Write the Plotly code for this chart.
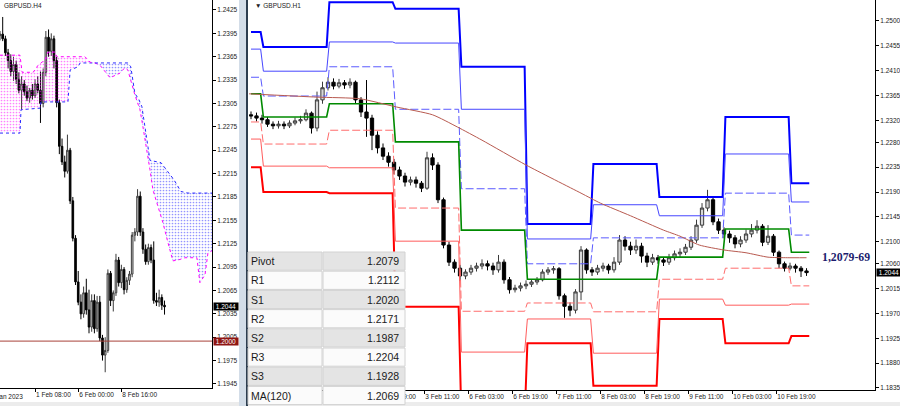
import plotly.graph_objects as go

W, H = 900, 406

# ---------------- Left panel: GBPUSD H4 (bar index 0 = 1 Feb 08:00) ----------------
h4_bar = list(range(-13, 49))
h4_first_open = 1.2392
h4_close = [1.2394, 1.2388, 1.2370, 1.2360, 1.2346, 1.2355, 1.2336, 1.2322, 1.2330, 1.2320,
            1.2312, 1.2322, 1.2315, 1.2330, 1.2322, 1.2305, 1.2345, 1.2390, 1.2372, 1.2388,
            1.2360, 1.2306, 1.2250, 1.2230, 1.2218, 1.2245, 1.2180, 1.2132, 1.2076, 1.2050,
            1.2035, 1.2062, 1.2040, 1.2018, 1.2052, 1.2016, 1.2050, 1.2004, 1.1982, 1.1988,
            1.2087, 1.2052, 1.2062, 1.2104, 1.2075, 1.2092, 1.2066, 1.2078, 1.2086, 1.2136,
            1.2140, 1.2186, 1.2140, 1.2118, 1.2102, 1.2120, 1.2104, 1.2052, 1.2050, 1.2056,
            1.2046, 1.2044]
h4_high = [1.2398, 1.2416, 1.2392, 1.2375, 1.2368, 1.2365, 1.2360, 1.2345, 1.2340, 1.2335,
           1.2328, 1.2325, 1.2330, 1.2336, 1.2340, 1.2346, 1.2350, 1.2398, 1.2400, 1.2395,
           1.2392, 1.2365, 1.2310, 1.2260, 1.2238, 1.2265, 1.2248, 1.2185, 1.2136, 1.2090,
           1.2060, 1.2070, 1.2080, 1.2066, 1.2060, 1.2060, 1.2058, 1.2058, 1.2008, 1.2005,
           1.2092, 1.2090, 1.2065, 1.2112, 1.2108, 1.2098, 1.2095, 1.2082, 1.2090, 1.2140,
           1.2145, 1.2195, 1.2192, 1.2145, 1.2124, 1.2125, 1.2124, 1.2128, 1.2062, 1.2066,
           1.2060, 1.2052]
h4_low = [1.2386, 1.2385, 1.2366, 1.2350, 1.2340, 1.2334, 1.2330, 1.2318, 1.2297, 1.2315,
          1.2308, 1.2306, 1.2310, 1.2312, 1.2318, 1.2280, 1.2300, 1.2340, 1.2365, 1.2366,
          1.2350, 1.2300, 1.2240, 1.2226, 1.2210, 1.2215, 1.2176, 1.2128, 1.2072, 1.2046,
          1.2028, 1.2030, 1.2034, 1.2010, 1.2012, 1.2010, 1.2012, 1.2000, 1.1975, 1.1960,
          1.1985, 1.2045, 1.2038, 1.2058, 1.2070, 1.2068, 1.2060, 1.2062, 1.2072, 1.2082,
          1.2128, 1.2135, 1.2135, 1.2112, 1.2098, 1.2098, 1.2100, 1.2048, 1.2045, 1.2044,
          1.2040, 1.2034]
h4_open = [h4_first_open] + h4_close[:-1]

# Ichimoku cloud: part 1 (span A above span B, magenta), part 2 (span B above span A, blue)
cloud1_top_x = [-13, -5.6, -4.8, -0.7, 1.1, 3.7, 4.8, 7.4, 8.1, 18.5, 20.4, 22.2]
cloud1_top_y = [1.2367, 1.2367, 1.2345, 1.2345, 1.2354, 1.2361, 1.2371, 1.2371, 1.2365, 1.2365, 1.2358, 1.2357]
cloud1_bot_x = [-13, -5.6, -5.2, 1.9, 2.2, 12.2, 13, 15.9, 16.7, 22.2]
cloud1_bot_y = [1.2267, 1.2267, 1.2297, 1.2299, 1.2307, 1.2307, 1.2348, 1.2352, 1.2357, 1.2357]
cloud2_top_x = [22.2, 34.4, 35.5, 37.0, 38.5, 39.6, 41.1, 42.6, 46.7, 49.3, 51.5, 54.1, 56.7, 65.6]
cloud2_top_y = [1.2357, 1.2357, 1.2352, 1.2318, 1.2310, 1.2301, 1.2267, 1.2232, 1.2229, 1.2217,
                1.2207, 1.2192, 1.2190, 1.2190]
cloud2_bot_x = [22.2, 24.1, 27.8, 31.5, 33.3, 34.4, 37.0, 38.9, 40.0, 41.5, 42.6, 43.7, 45.2, 47.4,
                49.3, 51.1, 53.0, 55.6, 60.0, 61.1, 63.0, 64.1, 65.6]
cloud2_bot_y = [1.2357, 1.2354, 1.2338, 1.2344, 1.2351, 1.2348, 1.2316, 1.2297, 1.2275, 1.2245,
                1.2220, 1.2194, 1.2177, 1.2152, 1.2126, 1.2103, 1.2104, 1.2107, 1.2107, 1.2075,
                1.2085, 1.2113, 1.2116]
h4_level_line = 1.2000
h4_last_price = 1.2044

h4_ytick_vals = [1.2425, 1.2395, 1.2365, 1.2335, 1.2305, 1.2275, 1.2245, 1.2215, 1.2185,
                 1.2155, 1.2125, 1.2095, 1.2065, 1.2035, 1.2005, 1.1975, 1.1945]
h4_xtick_vals = [0, 16, 32]
h4_xtick_text = ['1 Feb 08:00', '6 Feb 00:00', '8 Feb 16:00']
h4_first_label = '31 Jan 2023'

# ---------------- Right panel: GBPUSD H1 (bar index 0 = 1 Feb 00:00), 2-hour candles ----------------
h1_bar = list(range(-4, 200, 2))
h1_first_open = 1.2330
h1_close = [1.2328, 1.2324, 1.2321, 1.2313, 1.2310, 1.2313, 1.2310, 1.2315, 1.2319, 1.2321,
            1.2333, 1.2306, 1.2357, 1.2379, 1.2389, 1.2382, 1.2388, 1.2384, 1.2389, 1.2357,
            1.2335, 1.2324, 1.2293, 1.2270, 1.2255, 1.2244, 1.2230, 1.2219, 1.2208, 1.2212,
            1.2206, 1.2197, 1.2252, 1.2239, 1.2176, 1.2094, 1.2063, 1.2052, 1.2038, 1.2045,
            1.2052, 1.2056, 1.2060, 1.2056, 1.2049, 1.2063, 1.2031, 1.2013, 1.2016, 1.2020,
            1.2023, 1.2027, 1.2031, 1.2045, 1.2049, 1.2051, 1.2002, 1.1983, 1.1976, 1.2009,
            1.2085, 1.2049, 1.2045, 1.2052, 1.2056, 1.2049, 1.2063, 1.2103, 1.2092, 1.2085,
            1.2092, 1.2074, 1.2063, 1.2071, 1.2067, 1.2063, 1.2071, 1.2078, 1.2081, 1.2090,
            1.2103, 1.2130, 1.2161, 1.2176, 1.2136, 1.2121, 1.2114, 1.2107, 1.2096, 1.2103,
            1.2114, 1.2121, 1.2128, 1.2099, 1.2110, 1.2081, 1.2060, 1.2052, 1.2056, 1.2052,
            1.2047, 1.2044]
h1_high = [1.2336, 1.2334, 1.2330, 1.2326, 1.2318, 1.2319, 1.2318, 1.2320, 1.2325, 1.2328,
           1.2340, 1.2336, 1.2372, 1.2390, 1.2398, 1.2396, 1.2395, 1.2393, 1.2396, 1.2392,
           1.2362, 1.2393, 1.2330, 1.2300, 1.2278, 1.2262, 1.2250, 1.2236, 1.2225, 1.2218,
           1.2218, 1.2210, 1.2263, 1.2260, 1.2244, 1.2180, 1.2100, 1.2068, 1.2058, 1.2050,
           1.2058, 1.2062, 1.2068, 1.2066, 1.2062, 1.2076, 1.2068, 1.2036, 1.2022, 1.2026,
           1.2030, 1.2032, 1.2036, 1.2050, 1.2054, 1.2056, 1.2054, 1.2006, 1.1990, 1.2014,
           1.2092, 1.2088, 1.2054, 1.2058, 1.2062, 1.2060, 1.2072, 1.2112, 1.2110, 1.2100,
           1.2104, 1.2098, 1.2080, 1.2078, 1.2076, 1.2072, 1.2078, 1.2084, 1.2088, 1.2096,
           1.2110, 1.2140, 1.2170, 1.2194, 1.2180, 1.2142, 1.2126, 1.2120, 1.2112, 1.2110,
           1.2122, 1.2132, 1.2139, 1.2132, 1.2130, 1.2114, 1.2084, 1.2064, 1.2062, 1.2060,
           1.2056, 1.2052]
h1_low = [1.2322, 1.2318, 1.2314, 1.2308, 1.2304, 1.2305, 1.2304, 1.2306, 1.2311, 1.2314,
          1.2318, 1.2296, 1.2300, 1.2350, 1.2374, 1.2376, 1.2378, 1.2377, 1.2378, 1.2350,
          1.2326, 1.2290, 1.2266, 1.2260, 1.2248, 1.2236, 1.2222, 1.2212, 1.2200, 1.2202,
          1.2198, 1.2190, 1.2194, 1.2230, 1.2170, 1.2088, 1.2056, 1.2044, 1.2029, 1.2032,
          1.2040, 1.2046, 1.2050, 1.2048, 1.2040, 1.2044, 1.2024, 1.2006, 1.2008, 1.2010,
          1.2014, 1.2018, 1.2022, 1.2028, 1.2040, 1.2042, 1.1995, 1.1962, 1.1965, 1.1970,
          1.1994, 1.2042, 1.2038, 1.2040, 1.2046, 1.2042, 1.2044, 1.2058, 1.2084, 1.2076,
          1.2078, 1.2062, 1.2054, 1.2058, 1.2060, 1.2056, 1.2058, 1.2066, 1.2072, 1.2076,
          1.2085, 1.2098, 1.2125, 1.2155, 1.2130, 1.2114, 1.2106, 1.2098, 1.2088, 1.2090,
          1.2098, 1.2108, 1.2115, 1.2092, 1.2094, 1.2074, 1.2052, 1.2046, 1.2048, 1.2044,
          1.2036, 1.2038]
h1_open = [h1_first_open] + h1_close[:-1]

# daily pivot levels (one value per trading day)
day_start = [-4, 0, 24, 48, 72, 96, 120, 144, 168, 192]
day_last_bar = 199
lvl_R3 = [1.2480, 1.2453, 1.2534, 1.2522, 1.2417, 1.2132, 1.2241, 1.2181, 1.2326, 1.2206]
lvl_R2 = [1.2449, 1.2409, 1.2462, 1.2460, 1.2340, 1.2105, 1.2167, 1.2147, 1.2259, 1.2172]
lvl_R1 = [1.2398, 1.2364, 1.2417, 1.2340, 1.2196, 1.2060, 1.2107, 1.2107, 1.2188, 1.2112]
lvl_P = [1.2368, 1.2326, 1.2350, 1.2281, 1.2121, 1.2032, 1.2032, 1.2072, 1.2123, 1.2081]
lvl_S1 = [1.2317, 1.2277, 1.2302, 1.2161, 1.1974, 1.1989, 1.1973, 1.2032, 1.2052, 1.2020]
lvl_S2 = [1.2286, 1.2237, 1.2234, 1.2101, 1.1900, 1.1960, 1.1898, 1.1996, 1.1985, 1.1987]
lvl_S3 = [1.2235, 1.2190, 1.2188, 1.1982, 1.1780, 1.1916, 1.1839, 1.1960, 1.1916, 1.1929]

ma_x = [-4.7, 20, 35.6, 49, 62, 71, 80, 96, 116, 123, 134, 146, 152, 159, 168, 176, 184, 191, 198]
ma_y = [1.2368, 1.2362, 1.2359, 1.2344, 1.2330, 1.2308, 1.2284, 1.2239, 1.2188, 1.2170, 1.2147,
        1.2121, 1.2110, 1.2094, 1.2085, 1.2080, 1.2072, 1.2071, 1.2071]
h1_last_price = 1.2044

h1_ytick_vals = [1.2500, 1.2455, 1.2410, 1.2365, 1.2320, 1.2280, 1.2235, 1.2190, 1.2145, 1.2100,
                 1.2060, 1.2015, 1.1970, 1.1925, 1.1880, 1.1835]
h1_xtick_vals = [43, 59, 75, 91, 107, 123, 139, 155, 171, 187]
h1_xtick_text = ['2 Feb 19:00', '3 Feb 11:00', '6 Feb 03:00', '6 Feb 19:00', '7 Feb 11:00',
                 '8 Feb 03:00', '8 Feb 19:00', '9 Feb 11:00', '10 Feb 03:00', '10 Feb 19:00']

table_labels = ['Pivot', 'R1', 'S1', 'R2', 'S2', 'R3', 'S3', 'MA(120)']
table_values = ['1.2079', '1.2112', '1.2020', '1.2171', '1.1987', '1.2204', '1.1928', '1.2069']
zone_label = '1,2079-69'

# ---------------- helpers ----------------
def PX(x):
    return x / W


def PY(y):
    return 1 - y / H


def step_line(levels):
    xs, ys = [], []
    n = len(levels)
    for d in range(n):
        s = day_start[d] if d == 0 else day_start[d] + 0.5
        e = day_start[d + 1] - 0.5 if d < n - 1 else day_last_bar
        xs += [s, e]
        ys += [levels[d], levels[d]]
    return xs, ys


FONT = 'Liberation Sans, Arial, sans-serif'
fig = go.Figure()

# ---- left panel traces ----
MAG = '#ff00ff'
BLU = '#2a2aff'
fig.add_trace(go.Scatter(x=cloud1_bot_x, y=cloud1_bot_y, mode='lines', xaxis='x', yaxis='y',
                         line=dict(color=BLU, width=1, dash='dot'), hoverinfo='skip'))
fig.add_trace(go.Scatter(x=cloud1_top_x, y=cloud1_top_y, mode='lines', xaxis='x', yaxis='y',
                         line=dict(color=MAG, width=1, dash='dot'), fill='tonexty',
                         fillcolor='rgba(0,0,0,0)',
                         fillpattern=dict(shape='.', fgcolor=MAG, bgcolor='rgba(0,0,0,0)',
                                          size=3, solidity=0.25), hoverinfo='skip'))
fig.add_trace(go.Scatter(x=cloud2_bot_x, y=cloud2_bot_y, mode='lines', xaxis='x', yaxis='y',
                         line=dict(color=MAG, width=1, dash='dot'), hoverinfo='skip'))
fig.add_trace(go.Scatter(x=cloud2_top_x, y=cloud2_top_y, mode='lines', xaxis='x', yaxis='y',
                         line=dict(color=BLU, width=1, dash='dot'), fill='tonexty',
                         fillcolor='rgba(0,0,0,0)',
                         fillpattern=dict(shape='.', fgcolor=BLU, bgcolor='rgba(0,0,0,0)',
                                          size=3, solidity=0.25), hoverinfo='skip'))
fig.add_trace(go.Scatter(x=[-13, 65.6], y=[h4_level_line, h4_level_line], mode='lines',
                         xaxis='x', yaxis='y', line=dict(color='#a8423a', width=1), hoverinfo='skip'))
fig.add_trace(go.Candlestick(x=h4_bar, open=h4_open, high=h4_high, low=h4_low, close=h4_close,
                             xaxis='x', yaxis='y', whiskerwidth=0,
                             increasing=dict(line=dict(color='#3a3a3a', width=1), fillcolor='#d8d8d8'),
                             decreasing=dict(line=dict(color='black', width=1), fillcolor='black')))

# ---- right panel traces ----
styles = [
    (lvl_R3, dict(color='#0000ff', width=2)),
    (lvl_R2, dict(color='#4646ff', width=1)),
    (lvl_R1, dict(color='#5a5aff', width=1, dash='8px,3px')),
    (lvl_S3, dict(color='#ff0000', width=2)),
    (lvl_S2, dict(color='#ff5c5c', width=1)),
    (lvl_S1, dict(color='#ff6c6c', width=1, dash='8px,3px')),
    (lvl_P, dict(color='#008a00', width=1.6)),
]
for lv, ln in styles:
    xs, ys = step_line(lv)
    fig.add_trace(go.Scatter(x=xs, y=ys, mode='lines', xaxis='x2', yaxis='y2', line=ln,
                             hoverinfo='skip'))
fig.add_trace(go.Scatter(x=ma_x, y=ma_y, mode='lines', xaxis='x2', yaxis='y2',
                         line=dict(color='#b85a50', width=1, shape='spline', smoothing=0.6),
                         hoverinfo='skip'))
fig.add_trace(go.Candlestick(x=h1_bar, open=h1_open, high=h1_high, low=h1_low, close=h1_close,
                             xaxis='x2', yaxis='y2', whiskerwidth=0,
                             increasing=dict(line=dict(color='#3a3a3a', width=1), fillcolor='#d8d8d8'),
                             decreasing=dict(line=dict(color='black', width=1), fillcolor='black')))

axis_common = dict(showgrid=False, zeroline=False, showline=True, linecolor='black', linewidth=1,
                   ticks='outside', ticklen=3, tickcolor='black', tickangle=0,
                   tickfont=dict(family=FONT, size=6.5, color='#222222'))

fig.update_layout(
    width=W, height=H, margin=dict(l=0, r=0, t=0, b=0, autoexpand=False),
    paper_bgcolor='white', plot_bgcolor='white', showlegend=False, boxgap=0.15,
    xaxis=dict(axis_common, domain=[0, PX(212)], range=[-13, 65.6], anchor='y',
               tickvals=h4_xtick_vals, ticktext=h4_xtick_text, ticklabelposition='outside right',
               rangeslider=dict(visible=False)),
    yaxis=dict(axis_common, domain=[1 - 388 / H, 1], range=[1.19398, 1.24378], anchor='x',
               side='right', tickvals=h4_ytick_vals, ticktext=['%.4f' % v for v in h4_ytick_vals]),
    xaxis2=dict(axis_common, domain=[PX(249), PX(875)], range=[-4.73, 222.9], anchor='y2',
                tickvals=h1_xtick_vals, ticktext=h1_xtick_text, ticklabelposition='outside right',
                rangeslider=dict(visible=False)),
    yaxis2=dict(axis_common, domain=[1 - 390 / H, 1], range=[1.18313, 1.2538], anchor='x2',
                side='right', tickvals=h1_ytick_vals, ticktext=['%.4f' % v for v in h1_ytick_vals]),
)

shapes = []
annotations = []

# bottom strip and splitter
shapes.append(dict(type='rect', xref='paper', yref='paper', x0=0, x1=1, y0=PY(406), y1=PY(402),
                   fillcolor='#ececec', line=dict(width=0), layer='above'))
shapes.append(dict(type='rect', xref='paper', yref='paper', x0=PX(239), x1=PX(246), y0=0, y1=1,
                   fillcolor='#d3dde8', line=dict(width=0), layer='above'))
shapes.append(dict(type='rect', xref='paper', yref='paper', x0=PX(246), x1=PX(248), y0=0, y1=1,
                   fillcolor='#2d3d4f', line=dict(width=0), layer='above'))

# table
row_h = 19.2
for k, (lab, val) in enumerate(zip(table_labels, table_values)):
    top = 252 + k * row_h
    bot = top + row_h - 1
    fill = '#e4e4e4' if k % 2 == 0 else '#fbfbfb'
    shapes.append(dict(type='rect', xref='paper', yref='paper', x0=PX(248), x1=PX(322),
                       y0=PY(bot), y1=PY(top), fillcolor=fill, line=dict(color='#d2d2d2', width=1),
                       layer='above'))
    shapes.append(dict(type='rect', xref='paper', yref='paper', x0=PX(323), x1=PX(405),
                       y0=PY(bot), y1=PY(top), fillcolor=fill, line=dict(color='#d2d2d2', width=1),
                       layer='above'))
    mid = (top + bot) / 2
    annotations.append(dict(xref='paper', yref='paper', x=PX(249), y=PY(mid), text=lab,
                            showarrow=False, xanchor='left', yanchor='middle',
                            font=dict(family=FONT, size=10.5, color='#1a1a1a')))
    annotations.append(dict(xref='paper', yref='paper', x=PX(401), y=PY(mid), text=val,
                            showarrow=False, xanchor='right', yanchor='middle',
                            font=dict(family=FONT, size=10.5, color='#1a1a1a')))

# titles
annotations.append(dict(xref='paper', yref='paper', x=PX(2), y=PY(5), text='GBPUSD.H4',
                        showarrow=False, xanchor='left', yanchor='middle',
                        font=dict(family=FONT, size=6.5, color='#222222')))
annotations.append(dict(xref='paper', yref='paper', x=PX(253), y=PY(5), text='▼ GBPUSD.H1',
                        showarrow=False, xanchor='left', yanchor='middle',
                        font=dict(family=FONT, size=6.5, color='#222222')))
annotations.append(dict(xref='paper', yref='paper', x=PX(25), y=PY(396), text=h4_first_label,
                        showarrow=False, xanchor='right', yanchor='middle',
                        font=dict(family=FONT, size=6.5, color='#222222')))
# zone label
annotations.append(dict(xref='paper', yref='paper', x=PX(846), y=PY(257), text='<b>%s</b>' % zone_label,
                        showarrow=False, xanchor='center', yanchor='middle',
                        font=dict(family='Liberation Serif, Times New Roman, serif', size=11.8,
                                  color='#1c1c6e')))
# price boxes
annotations.append(dict(xref='paper', yref='y2', x=PX(876), y=h1_last_price, text=' %.4f ' % h1_last_price,
                        showarrow=False, xanchor='left', yanchor='middle', bgcolor='black',
                        borderpad=0, font=dict(family=FONT, size=6.5, color='white')))
annotations.append(dict(xref='paper', yref='y', x=PX(213), y=h4_last_price, text=' %.4f ' % h4_last_price,
                        showarrow=False, xanchor='left', yanchor='middle', bgcolor='black',
                        borderpad=0, font=dict(family=FONT, size=6.5, color='white')))
annotations.append(dict(xref='paper', yref='y', x=PX(213), y=h4_level_line, text=' %.4f ' % h4_level_line,
                        showarrow=False, xanchor='left', yanchor='middle', bgcolor='#8e1512',
                        borderpad=0, font=dict(family=FONT, size=6.5, color='white')))

fig.update_layout(shapes=shapes, annotations=annotations)
fig.write_html('out.html', config={'displayModeBar': False},
               post_script="document.body.style.margin='0';document.body.style.padding='0';")
